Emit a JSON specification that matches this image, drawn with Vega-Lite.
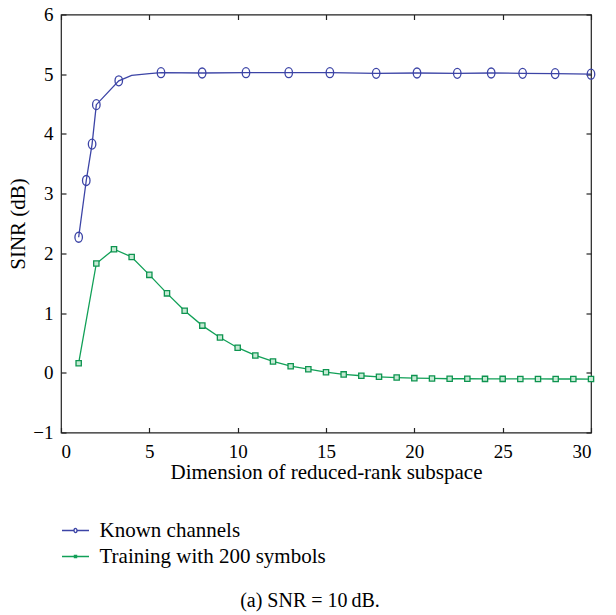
{
  "$schema": "https://vega.github.io/schema/vega-lite/v6.json",
  "width": 530,
  "height": 418,
  "autosize": {"type": "none"},
  "padding": {"left": 61, "top": 14.5, "right": 25, "bottom": 182.5},
  "background": "white",
  "title": {
    "text": "(a) SNR = 10\u2009dB.",
    "orient": "bottom",
    "anchor": "middle",
    "font": "Liberation Serif",
    "fontSize": 20,
    "fontWeight": "normal",
    "color": "black",
    "offset": 24,
    "dx": -16
  },
  "config": {
    "view": {"stroke": "#222222", "strokeWidth": 1.2},
    "axis": {
      "grid": false,
      "domain": false,
      "tickColor": "#222222",
      "tickWidth": 1.2,
      "tickSize": -5,
      "labelFont": "Liberation Serif",
      "labelFontSize": 19,
      "labelColor": "black",
      "titleFont": "Liberation Serif",
      "titleFontSize": 21,
      "titleFontWeight": "normal",
      "titleColor": "black"
    }
  },
  "data": {
    "values": [
      {"x": 1, "sinr": 2.27, "series": "Known channels", "marker": true},
      {"x": 1.43, "sinr": 3.22, "series": "Known channels", "marker": true},
      {"x": 1.76, "sinr": 3.83, "series": "Known channels", "marker": true},
      {"x": 2, "sinr": 4.49, "series": "Known channels", "marker": true},
      {"x": 3.27, "sinr": 4.89, "series": "Known channels", "marker": true},
      {"x": 4, "sinr": 4.98, "series": "Known channels", "marker": false},
      {"x": 5, "sinr": 5.01, "series": "Known channels", "marker": false},
      {"x": 5.66, "sinr": 5.025, "series": "Known channels", "marker": true},
      {"x": 7.99, "sinr": 5.02, "series": "Known channels", "marker": true},
      {"x": 10.47, "sinr": 5.025, "series": "Known channels", "marker": true},
      {"x": 12.89, "sinr": 5.025, "series": "Known channels", "marker": true},
      {"x": 15.22, "sinr": 5.025, "series": "Known channels", "marker": true},
      {"x": 17.84, "sinr": 5.015, "series": "Known channels", "marker": true},
      {"x": 20.15, "sinr": 5.02, "series": "Known channels", "marker": true},
      {"x": 22.43, "sinr": 5.015, "series": "Known channels", "marker": true},
      {"x": 24.35, "sinr": 5.02, "series": "Known channels", "marker": true},
      {"x": 26.13, "sinr": 5.015, "series": "Known channels", "marker": true},
      {"x": 27.97, "sinr": 5.01, "series": "Known channels", "marker": true},
      {"x": 30, "sinr": 5.0, "series": "Known channels", "marker": true},
      {"x": 1, "sinr": 0.16, "series": "Training with 200 symbols", "marker": true},
      {"x": 2, "sinr": 1.83, "series": "Training with 200 symbols", "marker": true},
      {"x": 3, "sinr": 2.07, "series": "Training with 200 symbols", "marker": true},
      {"x": 4, "sinr": 1.94, "series": "Training with 200 symbols", "marker": true},
      {"x": 5, "sinr": 1.64, "series": "Training with 200 symbols", "marker": true},
      {"x": 6, "sinr": 1.33, "series": "Training with 200 symbols", "marker": true},
      {"x": 7, "sinr": 1.04, "series": "Training with 200 symbols", "marker": true},
      {"x": 8, "sinr": 0.79, "series": "Training with 200 symbols", "marker": true},
      {"x": 9, "sinr": 0.59, "series": "Training with 200 symbols", "marker": true},
      {"x": 10, "sinr": 0.42, "series": "Training with 200 symbols", "marker": true},
      {"x": 11, "sinr": 0.29, "series": "Training with 200 symbols", "marker": true},
      {"x": 12, "sinr": 0.19, "series": "Training with 200 symbols", "marker": true},
      {"x": 13, "sinr": 0.11, "series": "Training with 200 symbols", "marker": true},
      {"x": 14, "sinr": 0.06, "series": "Training with 200 symbols", "marker": true},
      {"x": 15, "sinr": 0.01, "series": "Training with 200 symbols", "marker": true},
      {"x": 16, "sinr": -0.027, "series": "Training with 200 symbols", "marker": true},
      {"x": 17, "sinr": -0.05, "series": "Training with 200 symbols", "marker": true},
      {"x": 18, "sinr": -0.067, "series": "Training with 200 symbols", "marker": true},
      {"x": 19, "sinr": -0.08, "series": "Training with 200 symbols", "marker": true},
      {"x": 20, "sinr": -0.09, "series": "Training with 200 symbols", "marker": true},
      {"x": 21, "sinr": -0.095, "series": "Training with 200 symbols", "marker": true},
      {"x": 22, "sinr": -0.1, "series": "Training with 200 symbols", "marker": true},
      {"x": 23, "sinr": -0.1, "series": "Training with 200 symbols", "marker": true},
      {"x": 24, "sinr": -0.102, "series": "Training with 200 symbols", "marker": true},
      {"x": 25, "sinr": -0.102, "series": "Training with 200 symbols", "marker": true},
      {"x": 26, "sinr": -0.103, "series": "Training with 200 symbols", "marker": true},
      {"x": 27, "sinr": -0.103, "series": "Training with 200 symbols", "marker": true},
      {"x": 28, "sinr": -0.104, "series": "Training with 200 symbols", "marker": true},
      {"x": 29, "sinr": -0.104, "series": "Training with 200 symbols", "marker": true},
      {"x": 30, "sinr": -0.105, "series": "Training with 200 symbols", "marker": true}
    ]
  },
  "layer": [
    {
      "mark": {"type": "line", "strokeWidth": 1.3},
      "encoding": {
        "x": {
          "field": "x",
          "type": "quantitative",
          "scale": {"domain": [0, 30], "nice": false, "zero": false},
          "axis": {
            "orient": "bottom",
            "values": [0, 5, 10, 15, 20, 25, 30],
            "title": "Dimension of reduced-rank subspace",
            "labelPadding": 15,
            "titlePadding": 0
          }
        },
        "y": {
          "field": "sinr",
          "type": "quantitative",
          "scale": {"domain": [-1, 6], "nice": false, "zero": false},
          "axis": {
            "orient": "left",
            "values": [-1, 0, 1, 2, 3, 4, 5, 6],
            "title": "SINR (dB)",
            "labelPadding": 13,
            "titlePadding": 4
          }
        },
        "color": {
          "field": "series",
          "type": "nominal",
          "scale": {
            "domain": ["Known channels", "Training with 200 symbols"],
            "range": ["#3c44a6", "#11a057"]
          },
          "legend": {
            "orient": "none",
            "legendX": 1.5,
            "legendY": 503,
            "title": null,
            "padding": 0,
            "symbolSize": 576,
            "symbolStrokeWidth": 1.3,
            "labelFont": "Liberation Serif",
            "labelFontSize": 21,
            "labelColor": "black",
            "labelLimit": 400,
            "labelOffset": 11,
            "rowPadding": 3,
            "encode": {
              "symbols": {
                "update": {
                  "shape": {
                    "signal": "datum.value === 'Known channels' ? 'M-1.125,0H-0.125M0.125,0H1.125M0,-0.17A0.125,0.17 0 1 1 0,0.17A0.125,0.17 0 1 1 0,-0.17Z' : 'M-1.125,0H1.125M-0.09,-0.09H0.09V0.09H-0.09Z'"
                  },
                  "fill": {"value": "transparent"}
                }
              }
            }
          }
        }
      }
    },
    {
      "transform": [{"filter": "datum.marker && datum.series === 'Known channels'"}],
      "mark": {
        "type": "point",
        "filled": false,
        "strokeWidth": 1.3,
        "opacity": 1,
        "color": "#3c44a6",
        "shape": "M0,-1A0.75,1 0 1 1 0,1A0.75,1 0 1 1 0,-1Z",
        "size": 100
      },
      "encoding": {
        "x": {
          "field": "x",
          "type": "quantitative",
          "axis": {
            "orient": "top",
            "values": [0, 5, 10, 15, 20, 25, 30],
            "labels": false,
            "title": null
          }
        },
        "y": {
          "field": "sinr",
          "type": "quantitative",
          "axis": {
            "orient": "right",
            "values": [-1, 0, 1, 2, 3, 4, 5, 6],
            "labels": false,
            "title": null
          }
        }
      }
    },
    {
      "transform": [{"filter": "datum.marker && datum.series === 'Training with 200 symbols'"}],
      "mark": {
        "type": "point",
        "filled": true,
        "strokeWidth": 1.3,
        "opacity": 1,
        "stroke": "#0e9450",
        "fill": "#c6ead4",
        "shape": "square",
        "size": 28
      },
      "encoding": {
        "x": {"field": "x", "type": "quantitative", "axis": null},
        "y": {"field": "sinr", "type": "quantitative", "axis": null}
      }
    }
  ]
}
